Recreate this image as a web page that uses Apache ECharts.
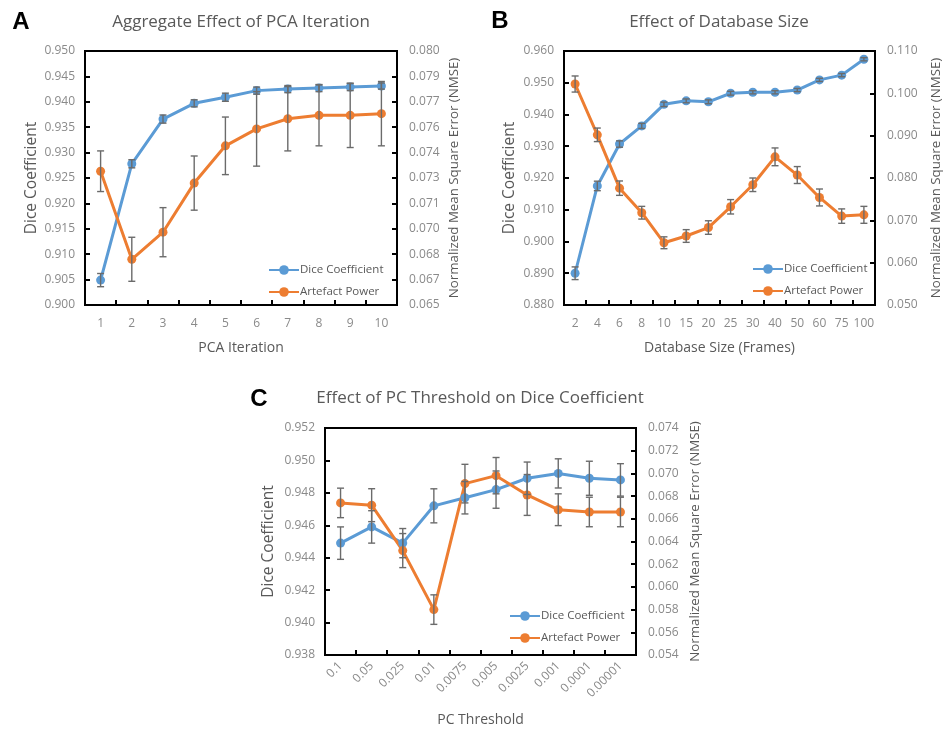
<!DOCTYPE html>
<html><head><meta charset="utf-8">
<script src="https://cdn.jsdelivr.net/npm/echarts@6/dist/echarts.min.js"></script>
<style>html,body{margin:0;padding:0;background:#fff}#c{width:945px;height:731px}</style>
</head><body><div id="c"></div>
<script>
// ---------- Panel A ----------
const aCategories = ['1','2','3','4','5','6','7','8','9','10'];
const aDice = [0.9049, 0.9278, 0.9366, 0.9397, 0.9409, 0.9422, 0.9425, 0.9427, 0.9429, 0.9431];
const aDiceErr = [0.0013, 0.0008, 0.0008, 0.0007, 0.0008, 0.0007, 0.0007, 0.0007, 0.0007, 0.0006];
const aArtefact = [0.0729, 0.0677, 0.0693, 0.0722, 0.0744, 0.0754, 0.0760, 0.0762, 0.0762, 0.0763];
const aArtefactErr = [0.0012, 0.0013, 0.00145, 0.0016, 0.0017, 0.0022, 0.0019, 0.0018, 0.0019, 0.0019];
const aLeftTicks = ['0.900','0.905','0.910','0.915','0.920','0.925','0.930','0.935','0.940','0.945','0.950'];
const aRightTicks = ['0.065','0.067','0.068','0.070','0.071','0.073','0.074','0.076','0.077','0.079','0.080'];

// ---------- Panel B ----------
const bCategories = ['2','4','6','8','10','15','20','25','30','40','50','60','75','100'];
const bDice = [0.8900, 0.9175, 0.9307, 0.9364, 0.9432, 0.9443, 0.9440, 0.9467, 0.9470, 0.9470, 0.9477, 0.9509, 0.9524, 0.9574];
const bDiceErr = [0.0020, 0.0015, 0.0010, 0.0008, 0.0007, 0.0006, 0.0006, 0.0006, 0.0005, 0.0005, 0.0005, 0.0005, 0.0005, 0.0005];
const bArtefact = [0.1022, 0.0902, 0.0776, 0.0718, 0.0647, 0.0663, 0.0683, 0.0732, 0.0784, 0.0850, 0.0807, 0.0754, 0.0710, 0.0713];
const bArtefactErr = [0.0019, 0.0016, 0.0017, 0.0015, 0.0014, 0.0015, 0.0016, 0.0017, 0.0016, 0.0021, 0.0020, 0.0020, 0.0017, 0.0020];
const bLeftTicks = ['0.880','0.890','0.900','0.910','0.920','0.930','0.940','0.950','0.960'];
const bRightTicks = ['0.050','0.060','0.070','0.080','0.090','0.100','0.110'];

// ---------- Panel C ----------
const cCategories = ['0.1','0.05','0.025','0.01','0.0075','0.005','0.0025','0.001','0.0001','0.00001'];
const cDice = [0.9449, 0.9459, 0.9449, 0.9472, 0.9477, 0.9482, 0.9489, 0.9492, 0.9489, 0.9488];
const cDiceErr = [0.0010, 0.0010, 0.0009, 0.00105, 0.0010, 0.00115, 0.0010, 0.0009, 0.00105, 0.0010];
const cArtefact = [0.0674, 0.0672, 0.0632, 0.0580, 0.0691, 0.0698, 0.0681, 0.0668, 0.0666, 0.0666];
const cArtefactErr = [0.0013, 0.00145, 0.0015, 0.0013, 0.0017, 0.0016, 0.0018, 0.0014, 0.0013, 0.0013];
const cLeftTicks = ['0.938','0.940','0.942','0.944','0.946','0.948','0.950','0.952'];
const cRightTicks = ['0.054','0.056','0.058','0.060','0.062','0.064','0.066','0.068','0.070','0.072','0.074'];

const BLUE = '#5b9bd5', ORANGE = '#ed7d31', ERR = '#6b6b6b';
const FONT = '"Open Sans", "Noto Sans", sans-serif';
const TICKC = '#8a8a8a', NAMEC = '#595959';

function xAx(gi, cats, name, gap, rotate, margin) {
  return {
    type: 'category', gridIndex: gi, data: cats, boundaryGap: true,
    name: name, nameLocation: 'middle', nameGap: gap,
    nameTextStyle: {color: NAMEC, fontSize: 14, fontFamily: FONT},
    axisLine: {show: true, lineStyle: {color: '#000', width: 2}},
    axisTick: {show: true, inside: true, length: 5, lineStyle: {color: '#000', width: 2}},
    axisLabel: {color: TICKC, fontSize: 12, fontFamily: FONT, margin: margin, rotate: rotate || 0, interval: 0},
    splitLine: {show: false}
  };
}
function yAx(gi, pos, ticks, min, interval, name, gap, nameSize) {
  const max = min + interval * (ticks.length - 1);
  return {
    type: 'value', gridIndex: gi, position: pos, min: min, max: max, interval: interval,
    name: name, nameLocation: 'middle', nameGap: gap,
    nameTextStyle: {color: NAMEC, fontSize: nameSize, fontFamily: FONT},
    axisLine: {show: true, lineStyle: {color: '#000', width: 2}},
    axisTick: {show: true, inside: true, length: 5, lineStyle: {color: '#000', width: 2}},
    axisLabel: {color: TICKC, fontSize: 12, fontFamily: FONT, margin: pos === 'left' ? 10 : 12,
      formatter: function (v) { return ticks[Math.round((v - min) / interval)] || ''; }},
    splitLine: {show: false}
  };
}
function lineS(name, xi, yi, vals, color) {
  return {
    type: 'line', name: name, xAxisIndex: xi, yAxisIndex: yi, data: vals,
    symbol: 'circle', symbolSize: 9, showSymbol: true,
    lineStyle: {color: color, width: 3}, itemStyle: {color: color},
    z: 3, silent: true, animation: false
  };
}
function errS(xi, yi, vals, errs) {
  return {
    type: 'custom', xAxisIndex: xi, yAxisIndex: yi, silent: true, z: 5, animation: false,
    data: vals.map(function (v, i) { return [i, v - errs[i], v + errs[i]]; }),
    encode: {x: 0, y: [1, 2]},
    renderItem: function (params, api) {
      const x = api.value(0);
      const lo = api.coord([x, api.value(1)]);
      const hi = api.coord([x, api.value(2)]);
      const w = 3.5;
      const st = {stroke: ERR, lineWidth: 1.4};
      return {type: 'group', children: [
        {type: 'line', shape: {x1: lo[0], y1: lo[1], x2: hi[0], y2: hi[1]}, style: st},
        {type: 'line', shape: {x1: lo[0] - w, y1: lo[1], x2: lo[0] + w, y2: lo[1]}, style: st},
        {type: 'line', shape: {x1: hi[0] - w, y1: hi[1], x2: hi[0] + w, y2: hi[1]}, style: st}
      ]};
    }
  };
}
function legendAt(left, top) {
  return {
    orient: 'vertical', left: left, top: top, itemWidth: 30, itemHeight: 12, itemGap: 10,
    data: ['Dice Coefficient', 'Artefact Power'], selectedMode: false,
    textStyle: {color: NAMEC, fontSize: 11.5, fontFamily: FONT, padding: [0, 0, 0, -4]}
  };
}
function txt(t, x, y, size, color, weight, family) {
  return {type: 'text', x: x, y: y, silent: true,
    style: {text: t, fill: color, font: (weight || 'normal') + ' ' + size + 'px ' + (family || FONT),
      textAlign: 'center', textVerticalAlign: 'middle'}};
}

const frame = {show: true, borderColor: '#000', borderWidth: 2, backgroundColor: 'transparent'};
const option = {
  backgroundColor: '#fff',
  animation: false,
  grid: [
    Object.assign({left: 85, top: 51, width: 312, height: 254}, frame),
    Object.assign({left: 564, top: 51, width: 311, height: 254}, frame),
    Object.assign({left: 325, top: 428, width: 311, height: 227}, frame)
  ],
  xAxis: [
    xAx(0, aCategories, 'PCA Iteration', 36, 0, 13),
    xAx(1, bCategories, 'Database Size (Frames)', 36, 0, 13),
    xAx(2, cCategories, 'PC Threshold', 58, 45, 9)
  ],
  yAxis: [
    yAx(0, 'left', aLeftTicks, 0.900, 0.005, 'Dice Coefficient', 45, 15.5),
    yAx(0, 'right', aRightTicks, 0.065, 0.0015, 'Normalized Mean Square Error (NMSE)', 51, 13.3),
    yAx(1, 'left', bLeftTicks, 0.880, 0.010, 'Dice Coefficient', 46, 15.5),
    yAx(1, 'right', bRightTicks, 0.050, 0.010, 'Normalized Mean Square Error (NMSE)', 55, 13.3),
    yAx(2, 'left', cLeftTicks, 0.938, 0.002, 'Dice Coefficient', 48, 15.5),
    yAx(2, 'right', cRightTicks, 0.054, 0.002, 'Normalized Mean Square Error (NMSE)', 53, 13.3)
  ],
  legend: [legendAt(263, 259), legendAt(747, 258), legendAt(504, 605)],
  series: [
    lineS('Dice Coefficient', 0, 0, aDice, BLUE),
    lineS('Artefact Power', 0, 1, aArtefact, ORANGE),
    errS(0, 0, aDice, aDiceErr),
    errS(0, 1, aArtefact, aArtefactErr),
    lineS('Dice Coefficient', 1, 2, bDice, BLUE),
    lineS('Artefact Power', 1, 3, bArtefact, ORANGE),
    errS(1, 2, bDice, bDiceErr),
    errS(1, 3, bArtefact, bArtefactErr),
    lineS('Dice Coefficient', 2, 4, cDice, BLUE),
    lineS('Artefact Power', 2, 5, cArtefact, ORANGE),
    errS(2, 4, cDice, cDiceErr),
    errS(2, 5, cArtefact, cArtefactErr)
  ],
  graphic: [
    txt('A', 21, 22, 24, '#000', 'bold', '"Liberation Sans", Arial, sans-serif'),
    txt('B', 500, 21, 24, '#000', 'bold', '"Liberation Sans", Arial, sans-serif'),
    txt('C', 259, 399, 24, '#000', 'bold', '"Liberation Sans", Arial, sans-serif'),
    txt('Aggregate Effect of PCA Iteration', 241, 22, 17, NAMEC),
    txt('Effect of Database Size', 719, 22, 17, NAMEC),
    txt('Effect of PC Threshold on Dice Coefficient', 480, 398, 17, NAMEC)
  ]
};
const chart = echarts.init(document.getElementById('c'), null, {renderer: 'canvas'});
chart.setOption(option);
</script></body></html>
